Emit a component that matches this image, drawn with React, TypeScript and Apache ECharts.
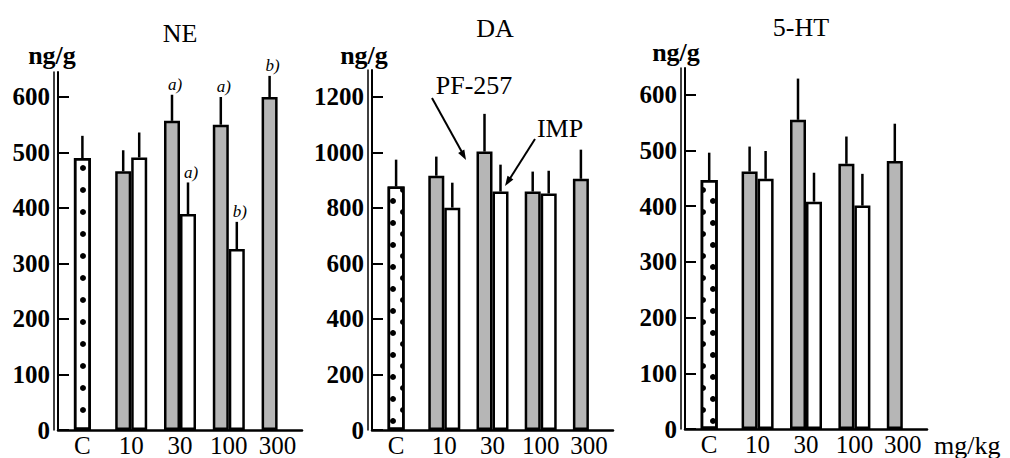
import React, { useEffect, useRef } from "react";
import * as echarts from "echarts";

const categories = ["C", "10", "30", "100", "300"];

// NE (ng/g)
const neControl = [490, null, null, null, null];
const neControlErr = [40, null, null, null, null];
const nePF = [null, 466, 557, 550, 600];
const nePFErr = [null, 38, 47, 50, 38];
const nePFSig = ["", "", "a)", "a)", "b)"];
const neIMP = [null, 491, 389, 326, null];
const neIMPErr = [null, 45, 57, 49, null];
const neIMPSig = ["", "", "a)", "b)", ""];
const neTicks = [0, 100, 200, 300, 400, 500, 600];

// DA (ng/g)
const daControl = [877, null, null, null, null];
const daControlErr = [97, null, null, null, null];
const daPF = [null, 916, 1003, 859, 905];
const daPFErr = [null, 69, 136, 72, 105];
const daPFSig = ["", "", "", "", ""];
const daIMP = [null, 801, 859, 852, null];
const daIMPErr = [null, 90, 97, 82, null];
const daIMPSig = ["", "", "", "", ""];
const daTicks = [0, 200, 400, 600, 800, 1000, 1200];

// 5-HT (ng/g)
const htControl = [447, null, null, null, null];
const htControlErr = [49, null, null, null, null];
const htPF = [null, 462, 555, 476, 481];
const htPFErr = [null, 45, 74, 49, 67];
const htPFSig = ["", "", "", "", ""];
const htIMP = [null, 449, 408, 401, null];
const htIMPErr = [null, 50, 52, 57, null];
const htIMPSig = ["", "", "", "", ""];
const htTicks = [0, 100, 200, 300, 400, 500, 600];

const FONT = '"Liberation Serif", "DejaVu Serif", serif';
const FONT_FAMILY = "Liberation Serif";

type Entry = { cat: number; val: number; err: number; sig: string; off: number };

function toBar(arr: (number | null)[]) {
  return arr.map((v) => (v == null ? "-" : v));
}

function makeEntries(vals: (number | null)[], errs: (number | null)[], sigs: string[], off: number): Entry[] {
  const out: Entry[] = [];
  vals.forEach((v, i) => {
    if (v != null && errs[i] != null) out.push({ cat: i, val: v, err: errs[i] as number, sig: sigs[i], off });
  });
  return out;
}

function errSeries(entries: Entry[], gi: number) {
  return {
    type: "custom",
    xAxisIndex: gi * 2,
    yAxisIndex: gi * 2,
    z: 5,
    data: entries.map((e) => [e.cat, e.val + e.err]),
    encode: { x: 0, y: 1 },
    renderItem: (params: any, api: any) => {
      const e = entries[params.dataIndex];
      const p0 = api.coord([e.cat, e.val]);
      const p1 = api.coord([e.cat, e.val + e.err]);
      const x = p0[0] + e.off;
      return {
        type: "group",
        children: [
          { type: "line", shape: { x1: x, y1: p0[1], x2: x, y2: p1[1] }, style: { stroke: "#000", lineWidth: 2.5 } },
          {
            type: "text",
            x: x + 3,
            y: p1[1] - 10,
            style: { text: e.sig, font: `italic 17px ${FONT}`, fill: "#000", textAlign: "center", textVerticalAlign: "middle" },
          },
        ],
      };
    },
  };
}

const panels = [
  { left: 58, right: 708, top: 72, bottom: 26, max: 645, ticks: neTicks, control: neControl, controlErr: neControlErr, pf: nePF, pfErr: nePFErr, pfSig: nePFSig, imp: neIMP, impErr: neIMPErr, impSig: neIMPSig },
  { left: 372, right: 397, top: 70, bottom: 27, max: 1297, ticks: daTicks, control: daControl, controlErr: daControlErr, pf: daPF, pfErr: daPFErr, pfSig: daPFSig, imp: daIMP, impErr: daIMPErr, impSig: daIMPSig },
  { left: 685, right: 83, top: 68, bottom: 29, max: 648, ticks: htTicks, control: htControl, controlErr: htControlErr, pf: htPF, pfErr: htPFErr, pfSig: htPFSig, imp: htIMP, impErr: htIMPErr, impSig: htIMPSig },
];

export default function App() {
  const ref = useRef<HTMLDivElement>(null);
  useEffect(() => {
    if (!ref.current) return;
    const chart = echarts.init(ref.current, null, { renderer: "svg" });
    const grid: any[] = [];
    const xAxis: any[] = [];
    const yAxis: any[] = [];
    const series: any[] = [];
    panels.forEach((p, gi) => {
      grid.push({ left: p.left, right: p.right, top: p.top, bottom: p.bottom });
      xAxis.push({
        type: "category",
        gridIndex: gi,
        data: categories,
        axisTick: { show: false },
        axisLine: { lineStyle: { color: "#000", width: 2.5 } },
        axisLabel: { interval: 0, color: "#000", fontFamily: FONT_FAMILY, fontSize: 25, margin: 3, lineHeight: 25 },
      });
      xAxis.push({ type: "category", gridIndex: gi, data: categories, show: false });
      yAxis.push({
        type: "value",
        gridIndex: gi,
        min: 0,
        max: p.max,
        splitLine: { show: false },
        axisLine: { show: true, lineStyle: { color: "#000", width: 2 } },
        axisTick: { show: true, inside: true, length: 11, lineStyle: { color: "#000", width: 2 }, customValues: p.ticks },
        axisLabel: {
          color: "#000",
          fontFamily: FONT_FAMILY,
          fontSize: 25,
          fontWeight: "bold",
          margin: 8,
          customValues: p.ticks,
          formatter: (v: number) => String(v),
        },
      });
      yAxis.push({
        type: "value",
        gridIndex: gi,
        min: 0,
        max: p.max,
        position: "left",
        offset: 4,
        splitLine: { show: false },
        axisLine: { show: true, lineStyle: { color: "#000", width: 1.5 } },
        axisTick: { show: false },
        axisLabel: { show: false },
      });
      series.push({
        type: "bar",
        xAxisIndex: gi * 2 + 1,
        yAxisIndex: gi * 2,
        data: toBar(p.control),
        barWidth: 17,
        itemStyle: {
          color: "#fff",
          borderColor: "#000",
          borderWidth: 2.5,
          decal: {
            symbol: "circle",
            symbolSize: 1,
            color: "#000",
            dashArrayX: [[6, 14], [0, 10, 6, 4]],
            dashArrayY: [6, 5],
          },
        },
      });
      series.push({
        type: "bar",
        xAxisIndex: gi * 2,
        yAxisIndex: gi * 2,
        data: toBar(p.pf),
        barWidth: 16,
        barGap: "0%",
        itemStyle: { color: "#b6b6b6", borderColor: "#000", borderWidth: 2.5 },
      });
      series.push({
        type: "bar",
        xAxisIndex: gi * 2,
        yAxisIndex: gi * 2,
        data: toBar(p.imp),
        barWidth: 16,
        barGap: "0%",
        itemStyle: { color: "#fff", borderColor: "#000", borderWidth: 2.5 },
      });
      series.push(errSeries(makeEntries(p.control, p.controlErr, ["", "", "", "", ""], 0), gi));
      series.push(errSeries(makeEntries(p.pf, p.pfErr, p.pfSig, -8), gi));
      series.push(errSeries(makeEntries(p.imp, p.impErr, p.impSig, 8), gi));
    });

    const txt = (text: string, x: number, y: number, font: string, align = "center") => ({
      type: "text",
      x,
      y,
      style: { text, font, fill: "#000", textAlign: align, textVerticalAlign: "middle" },
    });

    const graphic: any[] = [
      txt("NE", 180, 33, `26px ${FONT}`),
      txt("DA", 495, 28, `26px ${FONT}`),
      txt("5-HT", 801, 27, `26px ${FONT}`),
      txt("ng/g", 52, 55, `bold 26px ${FONT}`),
      txt("ng/g", 364, 55, `bold 26px ${FONT}`),
      txt("ng/g", 676, 52, `bold 26px ${FONT}`),
      txt("mg/kg", 934, 445, `26px ${FONT}`, "left"),
      txt("PF-257", 474, 85, `26px ${FONT}`),
      txt("IMP", 560, 128, `26px ${FONT}`),
      { type: "line", shape: { x1: 432, y1: 98, x2: 463, y2: 154 }, style: { stroke: "#000", lineWidth: 2 } },
      { type: "polygon", shape: { points: [[466, 160], [458.1, 152.9], [464.3, 149.5]] }, style: { fill: "#000" } },
      { type: "line", shape: { x1: 535, y1: 139, x2: 509, y2: 180 }, style: { stroke: "#000", lineWidth: 2 } },
      { type: "polygon", shape: { points: [[505, 186], [507.5, 175.7], [513.4, 179.5]] }, style: { fill: "#000" } },
    ];

    chart.setOption({
      animation: false,
      backgroundColor: "#fff",
      grid,
      xAxis,
      yAxis,
      series,
      graphic,
    });
    return () => chart.dispose();
  }, []);
  return <div ref={ref} style={{ position: "absolute", left: 0, top: 0, width: 1010, height: 458 }} />;
}
